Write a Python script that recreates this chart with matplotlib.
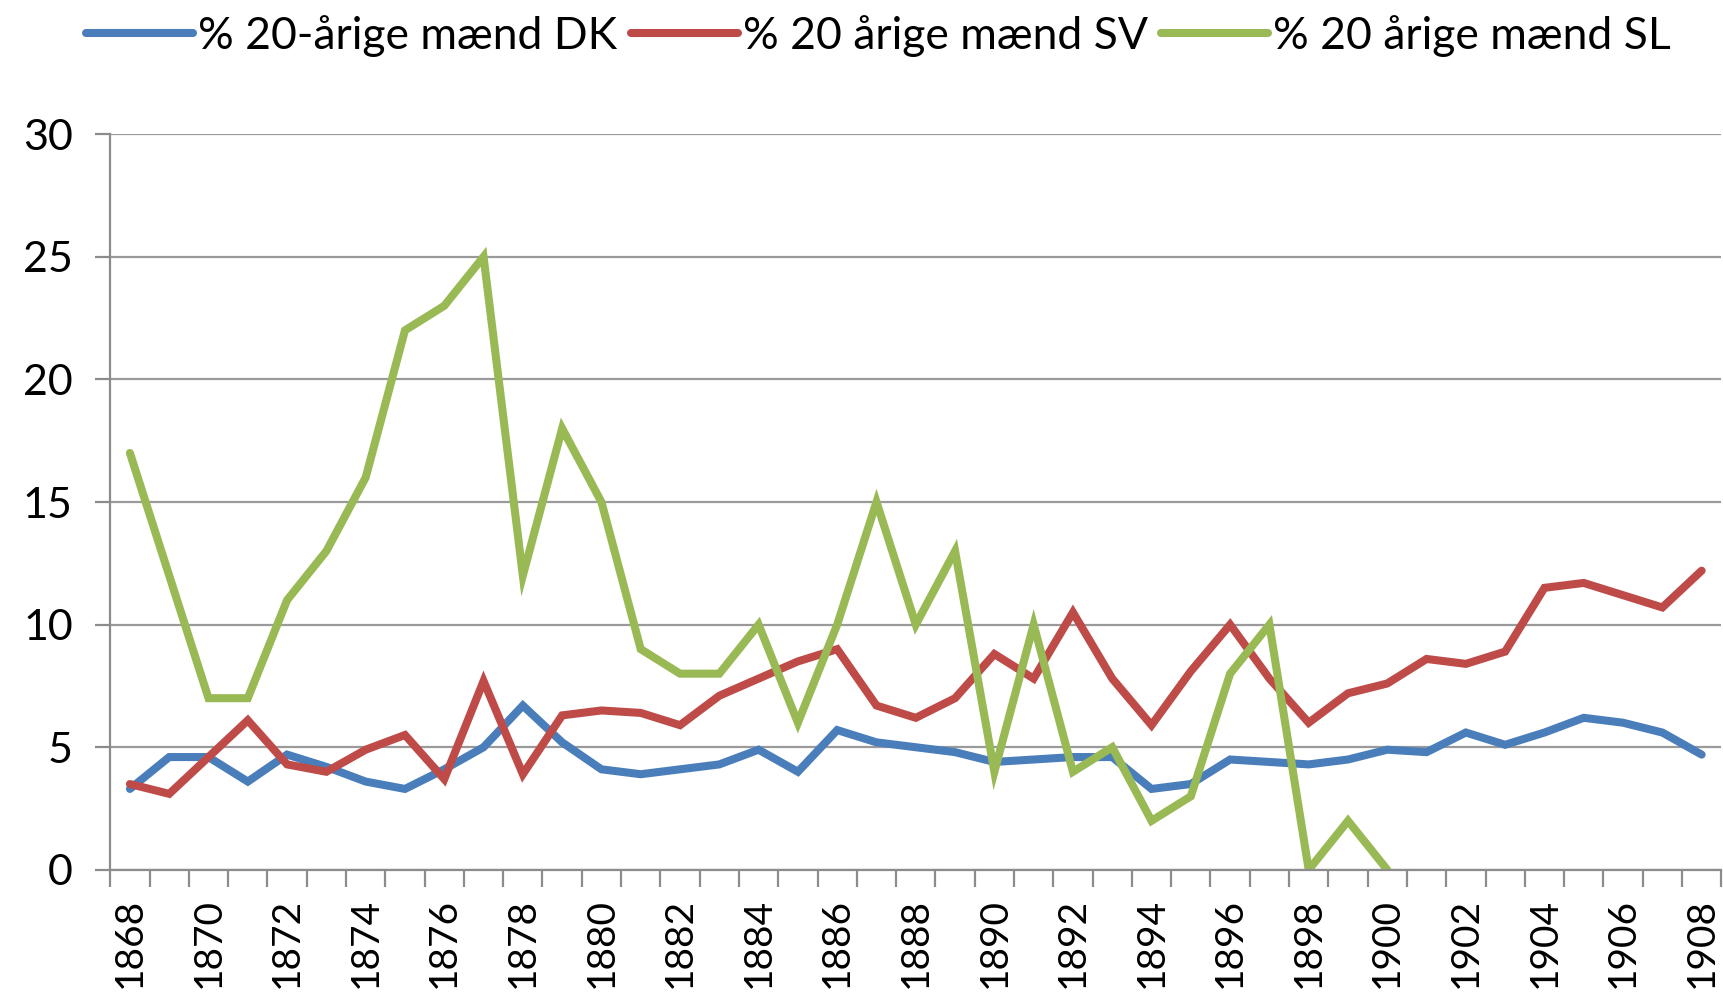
import matplotlib.pyplot as plt
import numpy as np

years = list(range(1868, 1909))

dk = [3.3, 4.6, 4.6, 3.6, 4.7, 4.2, 3.6, 3.3, 4.1, 5.0,
      6.7, 5.2, 4.1, 3.9, 4.1, 4.3, 4.9, 4.0, 5.7, 5.2,
      5.0, 4.8, 4.4, 4.5, 4.6, 4.6, 3.3, 3.5, 4.5, 4.4,
      4.3, 4.5, 4.9, 4.8, 5.6, 5.1, 5.6, 6.2, 6.0, 5.6, 4.7]

sv = [3.5, 3.1, 4.6, 6.1, 4.3, 4.0, 4.9, 5.5, 3.7, 7.7,
      3.9, 6.3, 6.5, 6.4, 5.9, 7.1, 7.8, 8.5, 9.0, 6.7,
      6.2, 7.0, 8.8, 7.8, 10.5, 7.8, 5.9, 8.1, 10.0, 7.8,
      6.0, 7.2, 7.6, 8.6, 8.4, 8.9, 11.5, 11.7, 11.2, 10.7, 12.2]

# SL series stops in 1900
sl = [17, 12, 7, 7, 11, 13, 16, 22, 23, 25,
      12, 18, 15, 9, 8, 8, 10, 6, 10, 15,
      10, 13, 4, 10, 4, 5, 2, 3, 8, 10,
      0, 2, 0]

labels = ["% 20-årige mænd DK", "% 20 årige mænd SV", "% 20 årige mænd SL"]
colors = ["#4a7ebb", "#be4b48", "#98b954"]

plt.rcParams["font.family"] = ["Lato", "DejaVu Sans"]

fig = plt.figure(figsize=(17.23, 10.01), dpi=100)
ax = fig.add_axes([0.064, 0.131, 0.935, 0.735])

idx = np.arange(len(years))
for vals, lab, col in zip([dk, sv, sl], labels, colors):
    ax.plot(idx[:len(vals)], vals, color=col, lw=5.8, label=lab,
            solid_joinstyle="miter", solid_capstyle="round")

ax.set_xlim(-0.5, len(years) - 0.5)
ax.set_ylim(0, 30)
ax.set_yticks(range(0, 31, 5))
ax.grid(axis="y", color="#9a9a9a", lw=1.6)
ax.set_axisbelow(True)

# category ticks at boundaries, labels every other year
ax.set_xticks(np.arange(-0.5, len(years)), minor=False)
ax.set_xticklabels([])
ax.set_xticks(idx[::2], minor=True)
ax.set_xticklabels([str(y) for y in years[::2]], minor=True, rotation=90)
ax.tick_params(axis="x", which="major", length=12, width=1.6, color="#8c8c8c")
ax.tick_params(axis="x", which="minor", length=0, pad=20, labelsize=28)
ax.tick_params(axis="y", length=11, width=1.6, color="#8c8c8c", pad=16,
               labelsize=31)

for s in ["top", "right"]:
    ax.spines[s].set_visible(False)
for s in ["left", "bottom"]:
    ax.spines[s].set_color("#8c8c8c")
    ax.spines[s].set_linewidth(1.6)

fig.legend(loc="center", bbox_to_anchor=(0.51, 0.964), ncol=3, frameon=False,
           fontsize=32, handlelength=2.4, handletextpad=0.12,
           columnspacing=0.3)

fig.savefig("out.png", dpi=100)
